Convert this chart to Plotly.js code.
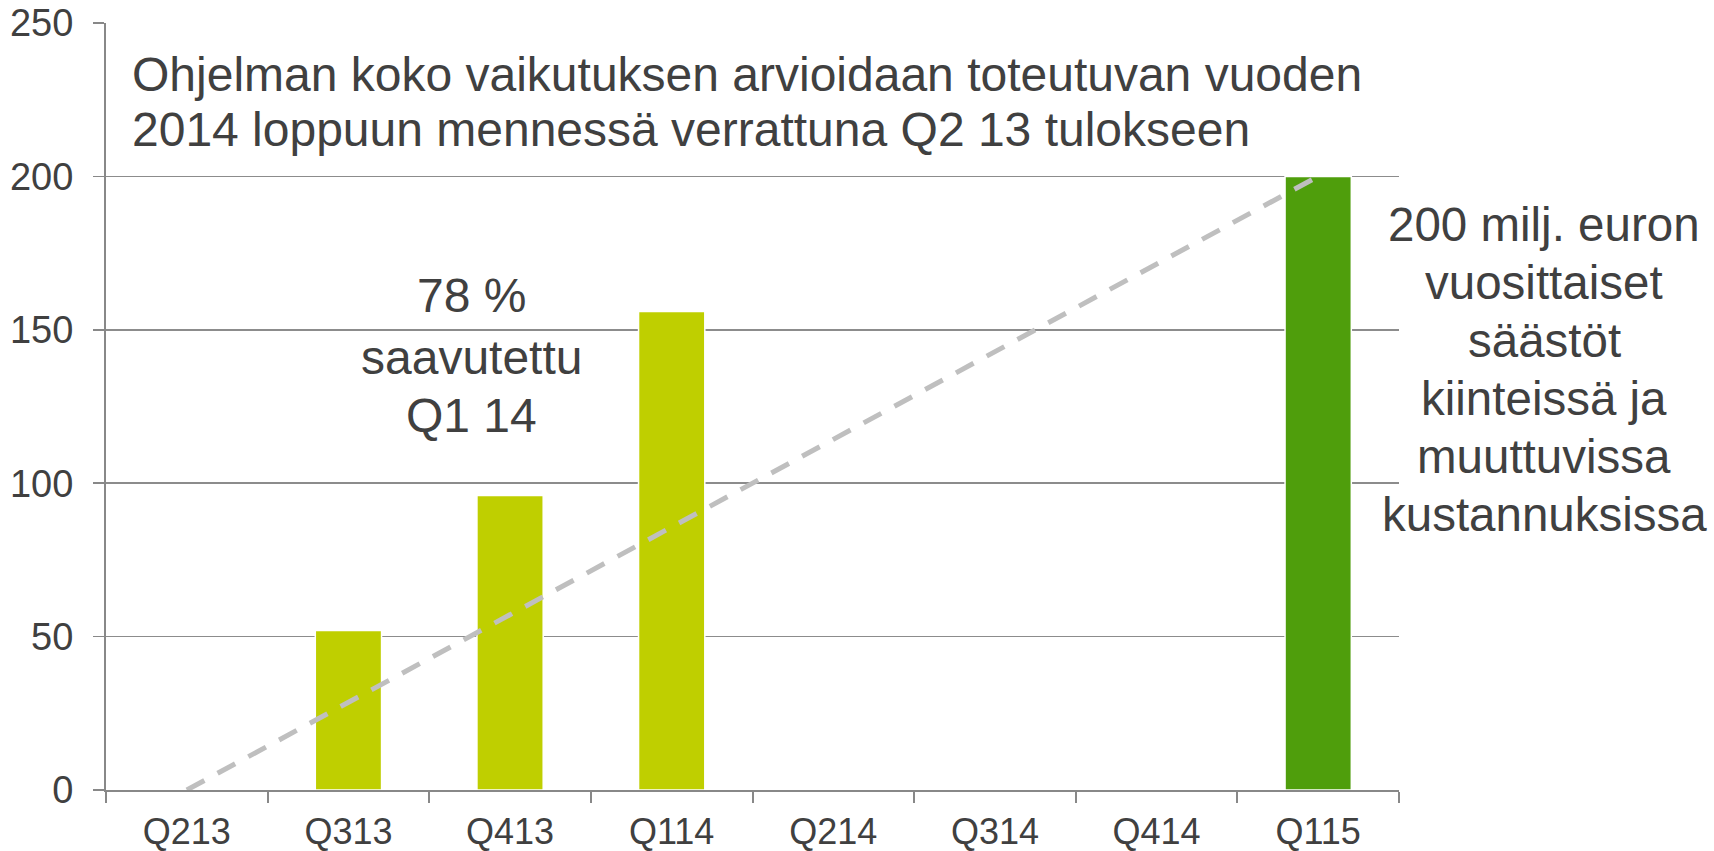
<!DOCTYPE html>
<html>
<head>
<meta charset="utf-8">
<script src="https://cdn.plot.ly/plotly-3.0.1.min.js"></script>
<style>html,body{margin:0;padding:0;background:#fff;}#chart{width:1714px;height:851px;}</style>
</head>
<body>
<div id="chart"></div>
<script>
const categories = ['Q213','Q313','Q413','Q114','Q214','Q314','Q414','Q115'];
const achievedQuarters = ['Q313','Q413','Q114'];
const achievedValues = [52, 96, 156];
const targetQuarters = ['Q115'];
const targetValues = [200];
const trendQuarters = ['Q213','Q115'];
const trendValues = [0, 200];
const yTicks = [0, 50, 100, 150, 200, 250];

const titleLines = ['Ohjelman koko vaikutuksen arvioidaan toteutuvan vuoden', '2014 loppuun mennessä verrattuna Q2 13 tulokseen'];
const progressLines = ['78 %', 'saavutettu', 'Q1 14'];
const targetLines = ['200 milj. euron', 'vuosittaiset', 'säästöt', 'kiinteissä ja', 'muuttuvissa', 'kustannuksissa'];

const font = 'Liberation Sans, Arial, sans-serif';
const textColor = '#404040';
const W = 1714, H = 851;
const M = {l:106, r:315, t:23, b:61};
const plotH = H - M.t - M.b;
const plotW = W - M.l - M.r;
const yMax = 250;
// convert pixel positions (layout) into paper / data coordinates
const pxToY = py => (H - M.b - py) / plotH * yMax;
const pxToPaperX = px => (px - M.l) / plotW;

const traces = [
  {type:'bar', x:achievedQuarters, y:achievedValues, width:0.41,
   marker:{color:'#BFCF00', line:{color:'#ffffff', width:1.5}}, hoverinfo:'x+y'},
  {type:'bar', x:targetQuarters, y:targetValues, width:0.41,
   marker:{color:'#4F9E0C', line:{color:'#ffffff', width:1.5}}, hoverinfo:'x+y'},
  {type:'scatter', mode:'lines', x:trendQuarters, y:trendValues,
   line:{color:'#BFBFBF', width:5, dash:'20px,15px'}, hoverinfo:'skip'}
];

const annotations = [];
const titleY = [74, 129];
titleLines.forEach((t, i) => annotations.push({xref:'paper', yref:'y', x:pxToPaperX(130), y:pxToY(titleY[i]),
  xanchor:'left', yanchor:'middle', showarrow:false, text:t, font:{family:font, size:48, color:textColor}}));
const progY = [295, 357, 415];
progressLines.forEach((t, i) => annotations.push({xref:'paper', yref:'y', x:pxToPaperX(471), y:pxToY(progY[i]),
  xanchor:'center', yanchor:'middle', showarrow:false, text:t, font:{family:font, size:48, color:textColor}}));
const targY = [224, 282, 340, 398, 456, 514];
targetLines.forEach((t, i) => annotations.push({xref:'paper', yref:'y', x:pxToPaperX(1544), y:pxToY(targY[i]),
  xanchor:'center', yanchor:'middle', showarrow:false, text:t, font:{family:font, size:47.5, color:textColor}}));

const layout = {
  width:W, height:H,
  margin:{l:M.l, r:M.r, t:M.t, b:M.b, pad:0},
  paper_bgcolor:'#fff', plot_bgcolor:'#fff',
  showlegend:false,
  barmode:'overlay',
  font:{family:font, color:textColor, size:36},
  xaxis:{type:'category', categoryorder:'array', categoryarray:categories,
    range:[-0.5, 7.5], showgrid:false, zeroline:false,
    showline:true, linecolor:'#888888', linewidth:2,
    ticks:'outside', tickson:'boundaries', ticklen:11, tickcolor:'#888888', tickwidth:2,
    ticklabelstandoff:9,
    tickfont:{family:font, size:36, color:textColor}},
  yaxis:{range:[0,yMax], tickvals:yTicks, showgrid:true, gridcolor:'#8C8C8C', gridwidth:1.5,
    zeroline:false, showline:true, linecolor:'#888888', linewidth:2,
    ticks:'outside', ticklen:11, tickcolor:'#888888', tickwidth:1.5,
    ticklabelstandoff:12,
    tickfont:{family:font, size:38, color:textColor}},
  annotations:annotations
};

Plotly.newPlot('chart', traces, layout, {displayModeBar:false, staticPlot:true});
</script>
</body>
</html>
